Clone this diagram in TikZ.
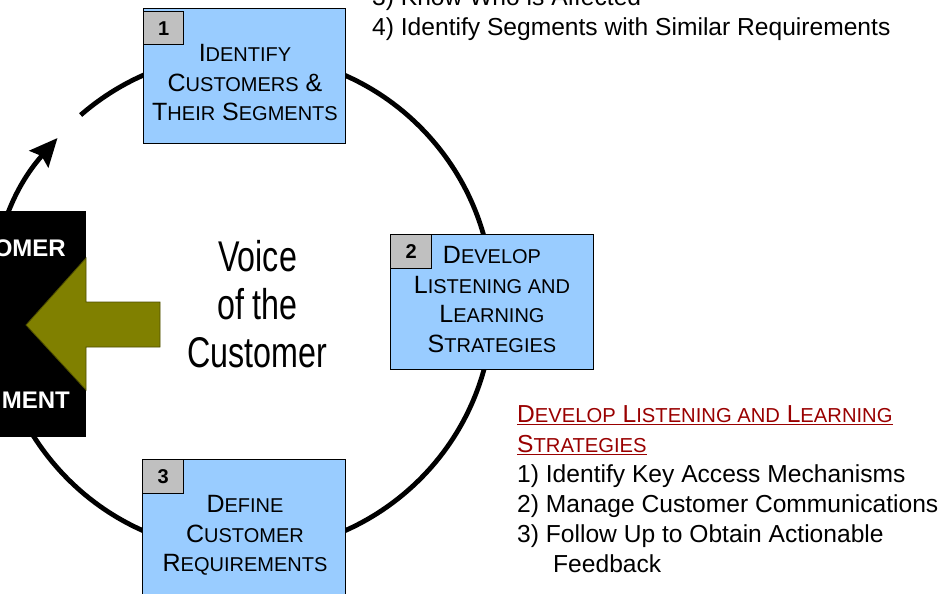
\documentclass[tikz,border=0pt]{standalone}
\usepackage{fontspec}
\setmainfont{Liberation Sans}
\newfontfamily\narrowsans[FakeStretch=0.75]{Liberation Sans}
\usetikzlibrary{arrows.meta,calc}

\definecolor{stageblue}{HTML}{99CCFF}
\definecolor{numgray}{HTML}{C0C0C0}
\definecolor{olivefill}{HTML}{808000}
\definecolor{olivedark}{HTML}{4D4D00}
\definecolor{headred}{HTML}{990000}

% fake small caps: reduced capitals
\newcommand\smc[1]{{\fontsize{20}{20}\selectfont #1}}
\newcommand\hsmc[1]{{\fontsize{20.2}{20.2}\selectfont #1}}

\begin{document}
\begin{tikzpicture}[x=1pt,y=-1pt,
  stagebox/.style={draw=black, line width=1.3pt, fill=stageblue, inner sep=0pt, anchor=north west},
  numbox/.style={draw=black, line width=1.3pt, fill=numgray, inner sep=0pt, anchor=north west,
    minimum width=40pt, minimum height=33pt, font=\bfseries\fontsize{20}{20}\selectfont},
  stagetext/.style={align=center, inner sep=0pt, anchor=north, font=\fontsize{25}{29.7}\selectfont},
  bodytext/.style={align=left, inner sep=0pt, anchor=north west, font=\fontsize{24.6}{30}\selectfont},
  ring/.style={line width=4.8pt, -{Stealth[length=28pt, width=25pt, inset=4pt]}},
]
\useasboundingbox (0,0) rectangle (943,594);
\clip (0,0) rectangle (943,594);

% cycle ring with its arrow
\coordinate (cc) at (244,303);
\draw[ring] ($(cc)+(131:249pt)$) arc[start angle=131, end angle=-221.5, radius=249pt];

% stage 1
\node[stagebox, minimum width=202pt, minimum height=135pt] (s1) at (143,8) {};
\node[numbox] (n1) at (143,11) {1};
\node[stagetext] (t1) at (245,44) {I\smc{DENTIFY}\\C\smc{USTOMERS} \&\\T\smc{HEIR} S\smc{EGMENTS}};

% stage 2
\node[stagebox, minimum width=203pt, minimum height=135pt] (s2) at (390,234) {};
\node[numbox, minimum width=41pt, minimum height=34pt] (n2) at (390,234) {2};
\node[stagetext] (t2) at (492,246) {D\smc{EVELOP}\\L\smc{ISTENING AND}\\L\smc{EARNING}\\S\smc{TRATEGIES}};

% stage 3
\node[stagebox, minimum width=203pt, minimum height=170pt] (s3) at (142,459) {};
\node[numbox, minimum width=41pt, minimum height=34pt] (n3) at (142,459) {3};
\node[stagetext] (t3) at (245,495) {D\smc{EFINE}\\C\smc{USTOMER}\\R\smc{EQUIREMENTS}};

% black panel on the left
\node[fill=black, inner sep=0pt, anchor=north east, minimum width=120pt, minimum height=226pt] (panel) at (86,211) {};
\node[white, inner sep=0pt, anchor=base east, font=\bfseries\fontsize{24}{24}\selectfont] (ptop) at (66,256.5) {OMER};
\node[white, inner sep=0pt, anchor=base east, font=\bfseries\fontsize{24}{24}\selectfont] (pbot) at (70,408.5) {MENT};

% block arrow into the panel
\draw[draw=olivedark, fill=olivefill, line width=0.8pt]
  (26,325) -- (86,258) -- (86,302) -- (160,302) -- (160,347) -- (86,347) -- (86,390) -- cycle;

% centre caption
\node[align=center, inner sep=0pt, anchor=north, font=\narrowsans\fontsize{43}{48}\selectfont] (voc)
  at (257.5,240) {Voice\\of the\\Customer};

% notes
\node[bodytext] (top) at (372,-13) {3) Know Who is Affected\\4) Identify Segments with Similar Requirements};
\node[bodytext, text=headred] (head) at (517,405.5)
  {\underline{D\hsmc{EVELOP} L\hsmc{ISTENING AND} L\hsmc{EARNING}}\\\underline{S\hsmc{TRATEGIES}}};
\node[bodytext] (list) at (517,464)
  {1) Identify Key Access Mechanisms\\2) Manage Customer Communications\\3) Follow Up to Obtain Actionable\\\hspace*{36pt}Feedback};
\end{tikzpicture}
\end{document}
